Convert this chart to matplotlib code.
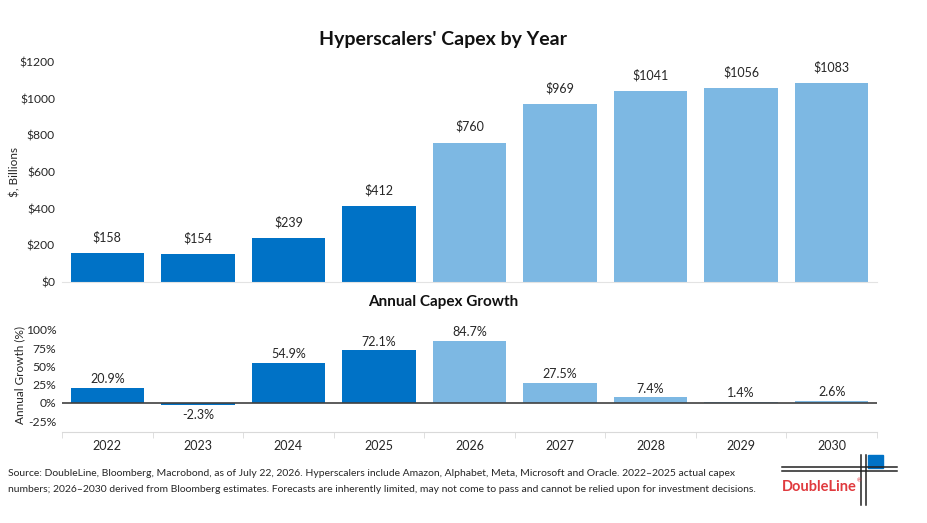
import matplotlib
matplotlib.use("Agg")
import matplotlib.pyplot as plt
from matplotlib.lines import Line2D
from matplotlib.patches import Rectangle

plt.rcParams['font.family'] = ['Lato', 'DejaVu Sans']

years = ["2022", "2023", "2024", "2025", "2026", "2027", "2028", "2029", "2030"]
capex = [158, 154, 239, 412, 760, 969, 1041, 1056, 1083]
growth = [20.9, -2.3, 54.9, 72.1, 84.7, 27.5, 7.4, 1.4, 2.6]
is_actual = [True, True, True, True, False, False, False, False, False]
capex_ticks = [0, 200, 400, 600, 800, 1000, 1200]
growth_ticks = [-25, 0, 25, 50, 75, 100]

DARK = "#0072C6"
LIGHT = "#7DB8E3"
TXT = "#262626"
colors = [DARK if a else LIGHT for a in is_actual]

W, H = 927, 523
fig = plt.figure(figsize=(W / 100, H / 100), dpi=100)

def fx(px):
    return px / W

def fy(py):
    return 1 - py / H

x = list(range(len(years)))

# Top axes
ax1 = fig.add_axes([fx(62), fy(282), fx(877 - 62), (282 - 62) / H])
ax1.bar(x, capex, width=0.81, color=colors, zorder=2)
ax1.set_xlim(-0.5, len(years) - 0.5)
ax1.set_ylim(0, 1200)
ax1.set_yticks(capex_ticks)
ax1.set_yticklabels([f"${v}" for v in capex_ticks], fontsize=8.7, color=TXT)
ax1.set_xticks([])
for s in ["top", "right", "left"]:
    ax1.spines[s].set_visible(False)
ax1.spines["bottom"].set_color("#E3E3E3")
ax1.tick_params(axis="y", length=0, pad=5)
fig.text(fx(15), fy(172), "$, Billions", rotation=90, ha="center", va="center",
         fontsize=8.5, color=TXT)
for xi, v in zip(x, capex):
    ax1.annotate(f"${v}", (xi, v), xytext=(0, 7), textcoords="offset points",
                 ha="center", va="bottom", fontsize=9, color=TXT)
fig.text(fx(443), fy(40), "Hyperscalers' Capex by Year", ha="center", va="center",
         fontsize=14, fontweight="bold", color="#111111")

# Bottom axes
ax2 = fig.add_axes([fx(62), fy(432), fx(877 - 62), (432 - 330) / H])
ax2.bar(x, growth, width=0.81, color=colors, zorder=2)
ax2.set_xlim(-0.5, len(years) - 0.5)
ax2.set_ylim(-40, 100)
ax2.set_yticks(growth_ticks)
ax2.set_yticklabels([f"{v}%" for v in growth_ticks], fontsize=8.7, color=TXT)
ax2.axhline(0, color="#404040", lw=1.2, zorder=3)
for s in ["top", "right", "left"]:
    ax2.spines[s].set_visible(False)
ax2.spines["bottom"].set_color("#D9D9D9")
ax2.tick_params(axis="y", length=0, pad=4)
ax2.set_xticks([i - 0.5 for i in range(len(years) + 1)], minor=True)
ax2.set_xticks(x)
ax2.set_xticklabels(years, fontsize=9, color=TXT)
ax2.tick_params(axis="x", which="major", length=0, pad=6)
ax2.tick_params(axis="x", which="minor", length=4, color="#D9D9D9")
fig.text(fx(20), fy(375), "Annual Growth (%)", rotation=90, ha="center", va="center",
         fontsize=8.5, color=TXT)
for xi, v in zip(x, growth):
    if v >= 0:
        ax2.annotate(f"{v}%", (xi, v), xytext=(0, 2), textcoords="offset points",
                     ha="center", va="bottom", fontsize=9, color=TXT)
    else:
        ax2.annotate(f"{v}%", (xi, v), xytext=(0, -3), textcoords="offset points",
                     ha="center", va="top", fontsize=9, color=TXT)
fig.text(fx(443), fy(302), "Annual Capex Growth", ha="center", va="center",
         fontsize=11, fontweight="bold", color="#111111")

# Footnote
fig.text(fx(8), fy(474), "Source: DoubleLine, Bloomberg, Macrobond, as of July 22, 2026. Hyperscalers include Amazon, Alphabet, Meta, Microsoft and Oracle. 2022\u20132025 actual capex",
         ha="left", va="center", fontsize=7.5, color=TXT)
fig.text(fx(8), fy(489), "numbers; 2026\u20132030 derived from Bloomberg estimates. Forecasts are inherently limited, may not come to pass and cannot be relied upon for investment decisions.",
         ha="left", va="center", fontsize=7.5, color=TXT)

# Logo
for yy in (467, 471):
        fig.add_artist(Line2D([fx(782), fx(897)], [fy(yy), fy(yy)], color="#222222", lw=1.1))
for xx in (861, 866):
        fig.add_artist(Line2D([fx(xx), fx(xx)], [fy(455), fy(505)], color="#222222", lw=1.1))
fig.add_artist(Rectangle((fx(868), fy(468)), fx(15), 13 / H, color="#0072C6"))
fig.text(fx(819), fy(487), "DoubleLine", ha="center", va="center", fontsize=10.5,
         fontweight="bold", color="#E03A3E")
fig.text(fx(857), fy(481), "\u00ae", ha="left", va="center", fontsize=4, color="#E03A3E")

fig.savefig("out.png", dpi=100)
